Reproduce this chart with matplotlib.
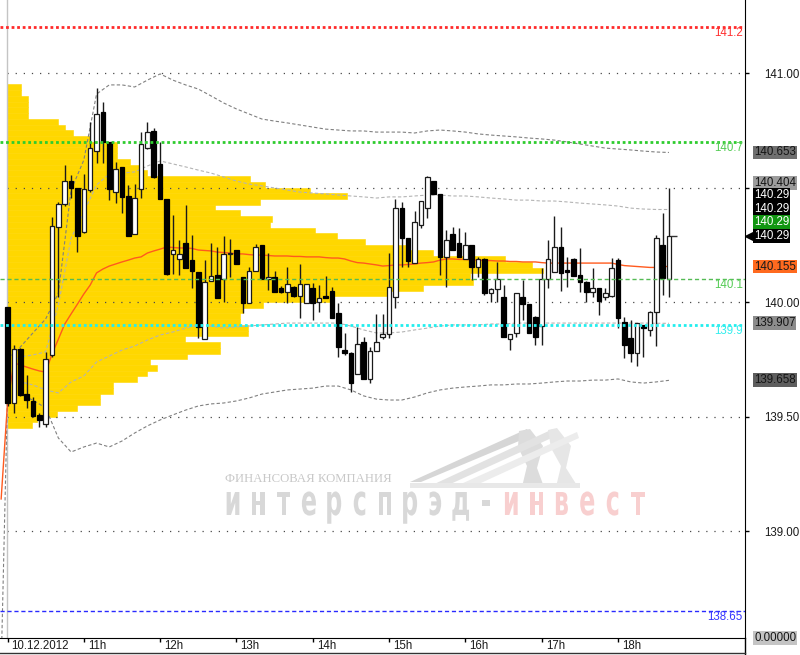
import numpy as np
import matplotlib
matplotlib.use("Agg")
import matplotlib.pyplot as plt
from matplotlib.patches import PathPatch, Polygon
from matplotlib.textpath import TextPath
from matplotlib.font_manager import FontProperties
from matplotlib.transforms import Affine2D, ScaledTranslation, blended_transform_factory

plt.rcParams['font.family'] = ['Liberation Sans', 'DejaVu Sans']

# ------------------------------------------------------------------ data
session_date = '10.12.2012'
hour_labels = [session_date, '11h', '12h', '13h', '14h', '15h', '16h', '17h', '18h']
bars_per_hour = 12

opens = [139.977, 139.558, 139.796, 139.597, 139.569, 139.507, 139.467, 139.767, 140.329, 140.427,
         140.530, 140.498, 140.307, 140.489, 140.659, 140.831, 140.700, 140.479, 140.588, 140.463,
         140.297, 140.492, 140.671, 140.748, 140.601, 140.450, 140.208, 140.188, 140.259, 140.183,
         140.132, 139.838, 140.092, 140.117, 140.099, 140.208, 140.227, 140.108, 139.997, 140.137,
         140.248, 140.099, 140.108, 140.060, 140.045, 140.067, 140.026, 139.997, 140.060, 139.999,
         140.028, 140.048, 139.951, 139.790, 139.776, 139.686, 139.827, 139.664, 139.787, 139.846,
         139.859, 140.021, 140.409, 140.278, 140.169, 140.336, 140.409, 140.530, 140.470, 140.198,
         140.297, 140.259, 140.186, 140.248, 140.154, 140.186, 140.038, 140.057, 140.021, 139.838,
         139.866, 140.021, 139.990, 139.936, 139.897, 140.100, 140.130, 140.239, 140.140, 140.188,
         140.118, 140.089, 140.045, 140.060, 140.020, 140.026, 140.183, 139.914, 139.842, 139.776,
         139.900, 139.878, 139.958, 140.249, 140.099]
highs = [139.980, 139.812, 139.800, 139.681, 139.585, 139.517, 139.783, 140.372, 140.438, 140.597,
         140.555, 140.500, 140.559, 140.787, 140.933, 140.875, 140.700, 140.610, 140.590, 140.511,
         140.514, 140.744, 140.787, 140.760, 140.700, 140.450, 140.380, 140.270, 140.424, 140.293,
         140.132, 140.183, 140.256, 140.241, 140.288, 140.274, 140.227, 140.110, 140.152, 140.253,
         140.250, 140.213, 140.134, 140.070, 140.154, 140.070, 140.165, 140.080, 140.084, 140.074,
         140.114, 140.067, 139.996, 139.863, 139.780, 139.890, 139.848, 139.805, 139.948, 139.948,
         140.215, 140.448, 140.438, 140.280, 140.397, 140.440, 140.550, 140.530, 140.470, 140.314,
         140.329, 140.324, 140.307, 140.250, 140.198, 140.190, 140.060, 140.176, 140.074, 139.860,
         140.040, 140.096, 139.990, 139.940, 140.147, 140.270, 140.377, 140.326, 140.195, 140.190,
         140.234, 140.090, 140.147, 140.060, 140.060, 140.191, 140.190, 139.936, 139.921, 139.910,
         139.900, 139.960, 140.293, 140.387, 140.496]
lows = [139.545, 139.517, 139.590, 139.537, 139.500, 139.454, 139.456, 139.760, 140.023, 140.420,
        140.454, 140.220, 140.300, 140.480, 140.606, 140.606, 140.445, 140.432, 140.389, 140.290,
        140.297, 140.453, 140.670, 140.540, 140.450, 140.120, 140.121, 140.118, 140.147, 140.060,
        139.843, 139.838, 140.090, 140.019, 140.001, 140.110, 140.166, 139.950, 139.997, 140.137,
        140.099, 140.052, 140.045, 140.040, 139.997, 140.020, 139.931, 139.997, 139.921, 139.958,
        140.019, 139.929, 139.759, 139.770, 139.608, 139.686, 139.664, 139.645, 139.787, 139.840,
        139.841, 139.973, 140.154, 140.154, 140.169, 140.322, 140.365, 140.470, 140.118, 140.067,
        140.227, 140.195, 140.186, 140.096, 140.110, 140.030, 140.001, 140.001, 139.846, 139.790,
        139.849, 139.921, 139.866, 139.812, 139.812, 140.060, 140.130, 140.050, 140.067, 140.115,
        140.045, 140.001, 140.020, 139.943, 140.010, 140.020, 139.885, 139.754, 139.739, 139.720,
        139.761, 139.850, 139.810, 140.031, 140.023]
closes = [139.558, 139.796, 139.594, 139.572, 139.502, 139.485, 139.750, 140.332, 140.428, 140.530,
          140.498, 140.290, 140.492, 140.671, 140.821, 140.700, 140.492, 140.581, 140.460, 140.290,
          140.453, 140.690, 140.744, 140.547, 140.450, 140.121, 140.227, 140.208, 140.147, 140.137,
          139.890, 140.089, 140.115, 140.019, 140.208, 140.208, 140.166, 139.997, 140.137, 140.239,
          140.099, 140.109, 140.045, 140.045, 140.077, 140.026, 140.077, 140.077, 139.997, 140.019,
          140.019, 139.929, 139.805, 139.776, 139.645, 139.817, 139.664, 139.787, 139.827, 139.859,
          140.067, 140.409, 140.278, 140.179, 140.348, 140.440, 140.547, 140.470, 140.198, 140.271,
          140.227, 140.195, 140.248, 140.154, 140.186, 140.038, 140.057, 140.099, 139.846, 139.860,
          140.038, 139.990, 139.866, 139.846, 140.099, 140.188, 140.239, 140.128, 140.130, 140.115,
          140.089, 140.045, 140.060, 140.006, 140.040, 140.148, 139.929, 139.812, 139.776, 139.907,
          139.886, 139.958, 140.278, 140.103, 140.290]

# VWAP per bar (plus the value carried in from before the session)
vwap_prev = 139.14
vwap = [139.559, 139.734, 139.725, 139.716, 139.707, 139.699, 139.694, 139.773, 139.838, 139.904,
        139.948, 139.991, 140.035, 140.074, 140.127, 140.144, 140.157, 140.166, 140.175, 140.183,
        140.192, 140.197, 140.214, 140.223, 140.231, 140.240, 140.238, 140.236, 140.236, 140.234,
        140.227, 140.225, 140.223, 140.218, 140.216, 140.214, 140.210, 140.210, 140.207, 140.205,
        140.205, 140.203, 140.201, 140.201, 140.201, 140.199, 140.199, 140.197, 140.197, 140.197,
        140.194, 140.192, 140.192, 140.188, 140.179, 140.172, 140.170, 140.166, 140.162, 140.157,
        140.159, 140.162, 140.162, 140.164, 140.166, 140.170, 140.172, 140.175, 140.183, 140.188,
        140.188, 140.186, 140.186, 140.183, 140.183, 140.181, 140.181, 140.179, 140.179, 140.177,
        140.177, 140.175, 140.175, 140.175, 140.172, 140.170, 140.170, 140.170, 140.170, 140.170,
        140.170, 140.170, 140.170, 140.170, 140.170, 140.170, 140.164, 140.159, 140.157, 140.155,
        140.153, 140.151, 140.151, 140.155, 140.155]

# deviation bands, read every 2nd bar
band_every = 2
upper2 = [139.750, 139.803, 139.865, 139.926, 140.039, 140.489, 140.620, 140.908, 140.948, 140.948,
          140.939, 140.969, 140.996, 140.969, 140.948, 140.930, 140.900, 140.869, 140.843, 140.821,
          140.799, 140.790, 140.782, 140.773, 140.764, 140.755, 140.751, 140.747, 140.747, 140.742,
          140.742, 140.742, 140.738, 140.747, 140.751, 140.747, 140.742, 140.734, 140.729, 140.725,
          140.721, 140.716, 140.712, 140.707, 140.699, 140.690, 140.681, 140.672, 140.668, 140.664,
          140.659, 140.655, 140.653]
upper1 = [139.730, 139.760, 139.769, 139.782, 139.987, 140.279, 140.393, 140.511, 140.559, 140.563,
          140.568, 140.594, 140.616, 140.603, 140.590, 140.576, 140.563, 140.546, 140.528, 140.515,
          140.507, 140.498, 140.489, 140.480, 140.476, 140.472, 140.467, 140.463, 140.459, 140.454,
          140.459, 140.459, 140.463, 140.467, 140.467, 140.463, 140.463, 140.459, 140.454, 140.450,
          140.445, 140.445, 140.441, 140.441, 140.437, 140.432, 140.428, 140.424, 140.419, 140.410,
          140.406, 140.404, 140.404]
lower1 = [139.638, 139.651, 139.638, 139.616, 139.603, 139.651, 139.677, 139.738, 139.764, 139.790,
          139.808, 139.834, 139.856, 139.869, 139.886, 139.900, 139.895, 139.886, 139.891, 139.895,
          139.900, 139.904, 139.908, 139.908, 139.908, 139.908, 139.908, 139.895, 139.878, 139.865,
          139.865, 139.869, 139.878, 139.886, 139.895, 139.900, 139.900, 139.900, 139.904, 139.904,
          139.908, 139.908, 139.908, 139.908, 139.908, 139.908, 139.908, 139.908, 139.908, 139.908,
          139.908, 139.907, 139.907]
lower2_prev = 138.40
lower2 = [139.594, 139.594, 139.572, 139.537, 139.406, 139.345, 139.367, 139.384, 139.367, 139.393,
          139.428, 139.459, 139.485, 139.507, 139.528, 139.546, 139.555, 139.559, 139.568, 139.581,
          139.598, 139.607, 139.616, 139.620, 139.624, 139.633, 139.633, 139.616, 139.590, 139.576,
          139.572, 139.572, 139.585, 139.603, 139.616, 139.624, 139.629, 139.633, 139.638, 139.638,
          139.642, 139.642, 139.646, 139.651, 139.655, 139.655, 139.659, 139.659, 139.664, 139.651,
          139.646, 139.651, 139.658]

# volume profile (bins of profile_step starting at profile_start)
profile_start = 139.45
profile_step = 0.025
profile_vol = [25, 30, 50, 70, 93, 93, 106, 106, 130, 140,
               150, 143, 180, 213, 213, 178, 241, 241, 233, 233,
               236, 256, 323, 383, 416, 466, 463, 536, 525, 498,
               426, 403, 358, 330, 308, 263, 265, 233, 208, 253,
               340, 303, 258, 243, 140, 133, 123, 110, 110, 110,
               83, 66, 58, 51, 21, 21, 21, 21, 14, 14]

grid_prices = [139.0, 139.5, 140.0, 140.5, 141.0]
grid_labels = ['139.00', '139.50', '140.00', '', '141.00']
level_prices = [141.2, 140.7, 140.1, 139.9, 138.65]
level_labels = ['141.2', '140.7', '140.1', '139.9', '138.65']
zero_label = '0.00000'

# ------------------------------------------------------------------ figure
W, H = 800, 655
AX_W, AX_H = 745, 638
fig = plt.figure(figsize=(W / 100, H / 100), dpi=100)
ax = fig.add_axes([0, (H - AX_H) / H, AX_W / W, AX_H / H])
ax.set_xlim(-1.18, 115.96)
ax.set_ylim(138.5328, 141.3188)

n = len(opens)
idx = np.arange(n)
o = np.array(opens); c = np.array(closes); hi = np.array(highs); lo = np.array(lows)

# volume profile
pv = np.array(profile_vol, dtype=float)
py = profile_start + profile_step * np.arange(len(pv))
ax.barh(py, pv / 6.36, height=profile_step, left=-0.08, align='edge',
        color='#ffd700', edgecolor='#ffd700', linewidth=0.4, zorder=1)

# grid and session start
ax.hlines(grid_prices, -0.08, 115.96, colors='#4a4a4a', linewidth=0.9,
          linestyles=(0, (1, 5.5)), zorder=2)
ax.axvline(-0.08, color='#c4c4c4', lw=1, zorder=2)

# bands
bx = np.arange(0, n, band_every)
ax.plot(bx, upper2, color='#808080', lw=0.8, ls=(0, (3, 2)), zorder=3)
ax.plot(bx, upper1, color='#b4b4b4', lw=0.8, ls=(0, (3, 2)), zorder=3)
ax.plot(bx, lower1, color='#b4b4b4', lw=0.8, ls=(0, (3, 2)), zorder=3)
ax.plot(np.r_[-1, bx], np.r_[lower2_prev, lower2], color='#808080', lw=0.8,
        ls=(0, (3, 2)), zorder=3)

# vwap
ax.plot(np.r_[-1, idx], np.r_[vwap_prev, vwap], color='#ff5a1e', lw=1.0, zorder=3.5)

# candles
up = c >= o
body_lo = np.minimum(o, c)
body_h = np.maximum(np.abs(c - o), 0.004)
ax.vlines(idx, lo, hi, colors='#1a1a1a', linewidth=1.0, zorder=4)
ax.bar(idx[up], body_h[up], bottom=body_lo[up], width=0.72, color='white',
       edgecolor='#1a1a1a', linewidth=0.9, zorder=5)
ax.bar(idx[~up], body_h[~up], bottom=body_lo[~up], width=0.72, color='black',
       edgecolor='black', linewidth=0.9, zorder=5)
ax.hlines(closes[-1], n - 1 + 0.3, n - 1 + 1.2, colors='#333333', lw=1, zorder=5)

# levels
bt = blended_transform_factory(ax.transAxes, ax.transData)
lvl_styles = [dict(color='#ff2a2a', lw=2.0, ls=(0, (1, 1))),
              dict(color='#2ecc2e', lw=2.0, ls=(0, (1, 1))),
              dict(color='#55bb55', lw=1.0, ls=(0, (3, 2))),
              dict(color='#22eeee', lw=2.0, ls=(0, (1, 1))),
              dict(color='#2a2aff', lw=1.0, ls=(0, (3, 2)))]
lvl_text = ['#ff3030', '#55cc55', '#55cc55', '#33eeee', '#3535ff']
for p, lab, st, tc in zip(level_prices, level_labels, lvl_styles, lvl_text):
    ax.axhline(p, zorder=6, **st)
    ax.text(0.997, p, lab, transform=bt, ha='right', va='top', fontsize=8.3,
            color=tc, zorder=7)

# axes styling
for s in ['top', 'left']:
    ax.spines[s].set_visible(False)
ax.spines['right'].set_color('black')
ax.spines['bottom'].set_color('black')
ax.yaxis.tick_right()
ax.set_yticks(grid_prices)
ax.set_yticklabels(grid_labels)
ax.tick_params(axis='y', direction='out', length=3, width=1, pad=10.8,
               labelsize=8.3, labelcolor='#1a1a1a')
ax.set_xticks(np.arange(len(hour_labels)) * bars_per_hour)
ax.set_xticklabels(hour_labels)
ax.tick_params(axis='x', direction='out', length=3, width=1, pad=-1.5,
               labelsize=8.3, labelcolor='#1a1a1a')
shift = ScaledTranslation(3 / 72, 0, fig.dpi_scale_trans)
for lab in ax.get_xticklabels():
    lab.set_horizontalalignment('left')
    lab.set_transform(lab.get_transform() + shift)

# extension of right axis and bottom border
fig.add_artist(plt.Line2D([AX_W / W, AX_W / W], [0, (H - AX_H) / H], color='black', lw=1))
fig.add_artist(plt.Line2D([0, AX_W / W], [2 / H, 2 / H], color='#333333', lw=1))

# value boxes on the price scale
def vbox(price, text, fc, tc, dy_px=0.0):
    ax.annotate(text, xy=(1, price), xycoords=bt, xytext=(6.5, dy_px * 0.72),
                textcoords='offset points', ha='left', va='center', fontsize=8.3,
                color=tc, annotation_clip=False, zorder=10,
                bbox=dict(boxstyle='square,pad=0.08', fc=fc, ec='none'))

vbox(upper2[-1], f'{upper2[-1]:.3f}', '#6f6f6f', '#151515')
vbox(upper1[-1], f'{upper1[-1]:.3f}', '#9c9c9c', '#151515', 26.5)
last = f'{closes[-1]:.2f}'
vbox(closes[-1], last, 'black', 'white', 40.6)
vbox(closes[-1], last, 'black', 'white', 27.0)
vbox(closes[-1], last, '#119611', 'white', 13.5)
vbox(closes[-1], last, 'black', 'white', 0)
ax.plot([1 + 3.8 / AX_W], [closes[-1]], marker='<', ms=6, color='black',
        transform=bt, clip_on=False, zorder=10)
vbox(vwap[-1], f'{vwap[-1]:.3f}', '#ff6a1f', '#1a1a1a')
vbox(lower1[-1], f'{lower1[-1]:.3f}', '#8c8c8c', '#151515')
vbox(lower2[-1], f'{lower2[-1]:.3f}', '#5e5e5e', '#151515')
ax.annotate(zero_label, xy=(1, 0), xycoords='axes fraction', xytext=(6.5, 0),
            textcoords='offset points', ha='left', va='center', fontsize=8.3,
            color='#151515', annotation_clip=False, zorder=10,
            bbox=dict(boxstyle='square,pad=0.08', fc='#c4c4c4', ec='none'))

# ------------------------------------------------------------------ watermark
def axp(x, y):
    return (x / AX_W, 1 - y / AX_H)

logo = [([(410, 482), (527, 429), (531, 436), (421, 482)], '#d6d6d6'),
        ([(519, 431), (530, 429), (543, 446), (537, 468), (544, 487), (522, 487), (527, 466), (518, 447)], '#dcdcdc'),
        ([(430, 486), (553, 429), (556, 436), (446, 486)], '#e2e2e2'),
        ([(548, 430), (557, 428), (571, 446), (566, 468), (578, 487), (556, 487), (561, 466), (551, 448)], '#e6e6e6'),
        ([(452, 488), (577, 432), (579, 438), (470, 488)], '#ececec'),
        ([(410, 483), (580, 483), (580, 488), (410, 488)], '#e8e8e8')]
for pts, col in logo:
    ax.add_patch(Polygon([axp(*q) for q in pts], closed=True, fc=col, ec='none',
                         transform=ax.transAxes, zorder=0.5))

ax.text(225 / AX_W, 1 - 482 / AX_H, 'ФИНАНСОВАЯ КОМПАНИЯ', transform=ax.transAxes,
        family=['Liberation Serif', 'DejaVu Serif'], fontsize=9.2, color='#c8c8c8',
        ha='left', va='baseline', zorder=0.5)

fp = FontProperties(family='DejaVu Sans', weight='bold')
word = 'интерспрэд-инвест'
ref = TextPath((0, 0), 'н', size=10, prop=fp).get_extents()
sx, sy = 12.5 / ref.width, 23.0 / ref.height
for j, ch in enumerate(word):
    tp = TextPath((0, 0), ch, size=10, prop=fp)
    e = tp.get_extents()
    cx = 233 + 25.3 * j
    tx = cx - (e.x0 + e.width / 2) * sx
    tr = Affine2D().scale(sx, sy).translate(tx, AX_H - 515).scale(1 / AX_W, 1 / AX_H) + ax.transAxes
    col = '#d8d8d8' if j < 11 else '#f8cfcf'
    ax.add_patch(PathPatch(tp, fc=col, ec='none', transform=tr, zorder=0.5))

fig.savefig('out.png', dpi=100, facecolor='white')
